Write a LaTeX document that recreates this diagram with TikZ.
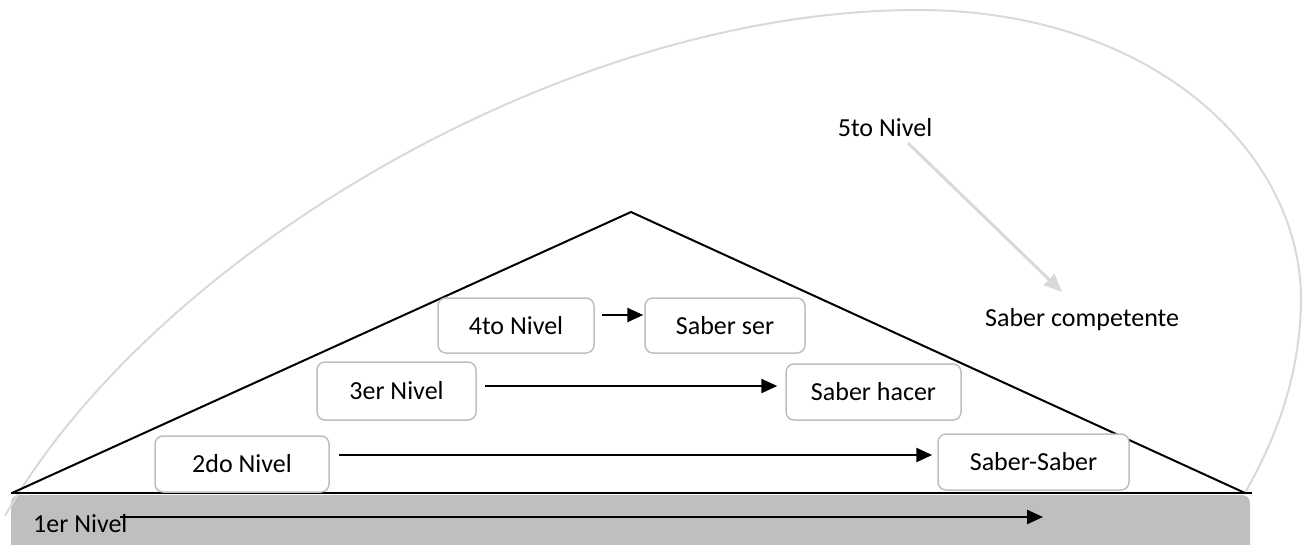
\documentclass[tikz,border=0pt]{standalone}
\usepackage{fontspec}
\setmainfont{Carlito}
\usetikzlibrary{arrows.meta}
\definecolor{barfill}{HTML}{BFBFBF}
\definecolor{boxline}{HTML}{BFBFBF}
\definecolor{curvegray}{HTML}{D9D9D9}
\tikzset{
  lvlbox/.style={draw=boxline, line width=1.5pt, rounded corners=8pt, fill=white,
    font=\fontsize{26}{31}\selectfont, inner sep=0pt},
  lbl/.style={font=\fontsize{26}{31}\selectfont, inner sep=0pt},
  blackarr/.style={line width=2.5pt, -{Triangle[length=16pt,width=14pt]}},
  grayarr/.style={draw=curvegray, line width=3pt, -{Triangle[length=18pt,width=15pt]}},
  outline/.style={line width=2pt, line join=miter},
  bigcurve/.style={draw=curvegray, line width=2pt}
}
\begin{document}
\begin{tikzpicture}[x=1pt,y=-1pt]
\useasboundingbox (0,0) rectangle (1304,544);
\begin{scope}
\clip (0,0) rectangle (1304,544);
% base bar
\fill[barfill, rounded corners=8pt] (11,495) rectangle (1250,570);
% big gray curve
\draw[bigcurve] (5,516) .. controls (150,260) and (560,10) .. (918,10)
  .. controls (1150,10) and (1301,150) .. (1301,300)
  .. controls (1300,390) and (1266,455) .. (1245,493);
% triangle
\draw[outline] (12,493) -- (631,212) -- (1245,493);
\draw[line width=2pt] (11,493) -- (1252,493);
\end{scope}
% boxes
\node[lvlbox, minimum width=156pt, minimum height=55pt] (n4) at (516,325.5) {4to Nivel};
\node[lvlbox, minimum width=160pt, minimum height=55pt] (s4) at (725,325.5) {Saber ser};
\node[lvlbox, minimum width=159pt, minimum height=58pt] (n3) at (396.5,391) {3er Nivel};
\node[lvlbox, minimum width=175pt, minimum height=56pt] (s3) at (873.5,392) {Saber hacer};
\node[lvlbox, minimum width=174pt, minimum height=56pt] (n2) at (242,464) {2do Nivel};
\node[lvlbox, minimum width=191pt, minimum height=56pt] (s2) at (1033.5,462) {Saber-Saber};
% arrows
\draw[blackarr] ([shift={(7pt,10.5pt)}]n4.east) -- ([shift={(-1pt,10.5pt)}]s4.west);
\draw[blackarr] ([shift={(8pt,5pt)}]n3.east) -- ([shift={(-8pt,6pt)}]s3.west);
\draw[blackarr] ([shift={(9pt,9pt)}]n2.east) -- ([shift={(-5pt,7pt)}]s2.west);
% first level
\node[lbl, anchor=west] (l1) at (33,524) {1er Nivel};
\coordinate (a1s) at (120,517);
\coordinate (a1e) at (1043,517);
\draw[blackarr] (a1s) -- (a1e);
% fifth level
\node[lbl] (n5) at (885,128) {5to Nivel};
\node[lbl, anchor=west] (sc) at (985,320) {Saber competente};
\draw[grayarr] ([shift={(23pt,-15pt)}]n5.center) -- ([shift={(77pt,28pt)}]sc.west);
\end{tikzpicture}
\end{document}
